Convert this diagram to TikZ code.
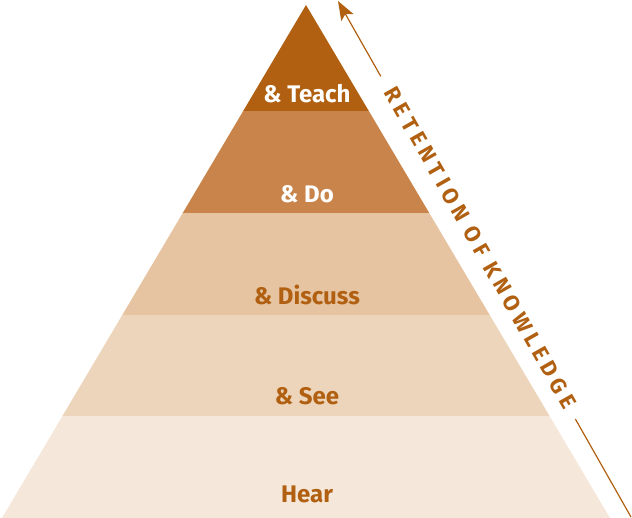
\documentclass[tikz,border=0pt]{standalone}
\usepackage{fontspec}
\setmainfont{Fira Sans}
\usetikzlibrary{arrows.meta,calc}
\definecolor{rust}{RGB}{176,96,16}
\definecolor{bandA}{RGB}{176,96,16}
\definecolor{bandB}{RGB}{200,132,75}
\definecolor{bandC}{RGB}{230,196,162}
\definecolor{bandD}{RGB}{237,213,187}
\definecolor{bandE}{RGB}{245,231,218}
\tikzset{
tier/.style={font=\bfseries\fontsize{24}{24}\selectfont, inner sep=0pt},
retention/.style={font=\bfseries\fontsize{22}{22}\selectfont\addfontfeatures{LetterSpace=22},
	text=rust, sloped, inner sep=0pt},
knowline/.style={draw=rust, line width=1.2pt}
}

\begin{document}
\begin{tikzpicture}[x=1pt, y=1pt]
	\useasboundingbox (0,0) rectangle (632,518);
	\foreach \lo/\hi/\col in {0/102/bandE, 102/203/bandD, 203/305/bandC, 305/407/bandB, 407/513/bandA}{
		\fill[\col] ({306-0.59259*(513-\lo)},\lo) -- ({306+0.59259*(513-\lo)},\lo)
			-- ({306+0.59259*(513-\hi)},\hi) -- ({306-0.59259*(513-\hi)},\hi) -- cycle;
	}
	\node[tier, text=white] (teach) at (307,424) {\& Teach};
	\node[tier, text=white] (do) at (307,324) {\& Do};
	\node[tier, text=rust] (discuss) at (307,223) {\& Discuss};
	\node[tier, text=rust] (see) at (307,122) {\& See};
	\node[tier, text=rust] (hear) at (307,24) {Hear};
	\coordinate (foot) at (631,1);
	\coordinate (tip) at (338,517);
	\path (foot) -- (tip) node[retention, pos=0.52, yshift=2pt] (knowledge) {RETENTION OF KNOWLEDGE};
	\draw[knowline] (foot) -- ($(foot)!0.19!(tip)$);
	\draw[knowline, -{Stealth[length=19pt, width=14pt, inset=4pt]}] ($(foot)!0.854!(tip)$) -- (tip);
\end{tikzpicture}
\end{document}
